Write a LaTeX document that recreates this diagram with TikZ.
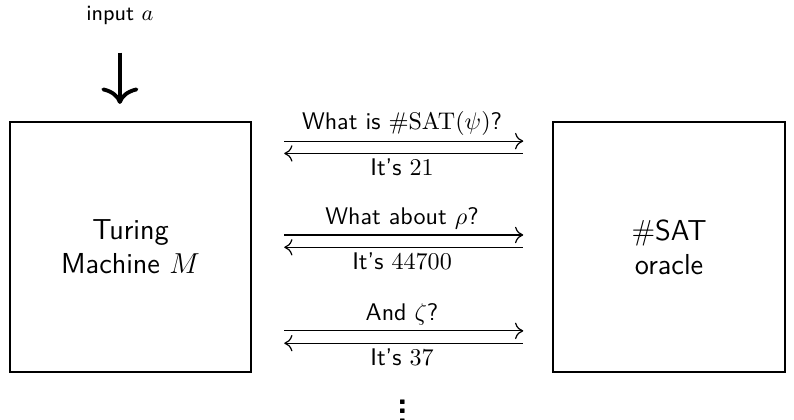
\documentclass[tikz,border=0pt]{standalone}
\usepackage{tikz}
\usetikzlibrary{positioning, arrows.meta, calc}
\usepackage{amsmath,amssymb}

\begin{document}
\begin{tikzpicture}[
  every node/.style={font=\sffamily},
  machine/.style={
    rectangle, draw=black, line width=0.8pt,
    minimum width=3.52cm, minimum height=3.65cm,
    font=\sffamily\large, align=center
  },
  query/.style={line width=0.5pt, -{To[length=1.2mm, width=2.4mm]}},
  answer/.style={line width=0.5pt, {To[length=1.2mm, width=2.4mm]}-},
  feed/.style={line width=1.6pt, -{To[length=2.4mm, width=5.4mm]}},
]
\useasboundingbox (0,0) rectangle (11.59,-6.13);

% Machine and oracle
\node[machine] (tm) at (1.905,-3.606) {Turing\\Machine $M$};
\node[machine, minimum width=3.39cm] (or) at (9.767,-3.606) {$\#$SAT\\oracle};

% Input
\node[font=\sffamily\small] (in) at (1.75,-0.23) {input $a$};
\draw[feed, shorten <=0.28cm, shorten >=0.25cm] (in.south) -- (in.south |- tm.north);

% Queries and answers
\coordinate (q1) at (0,-2.06);
\coordinate (q2) at (0,-3.43);
\coordinate (q3) at (0,-4.83);
\foreach \i/\ask/\reply in {
  1/{What is $\#\mathrm{SAT}(\psi)$?}/{It's $21$},
  2/{What about $\rho$?}/{It's $44700$},
  3/{And $\zeta$?}/{It's $37$}} {
  \draw[query, shorten <=0.47cm, shorten >=0.42cm]
    (tm.east |- q\i) -- node[above, inner sep=2pt] {\ask} (or.west |- q\i);
  \draw[answer, shorten <=0.47cm, shorten >=0.42cm]
    ($(tm.east |- q\i)+(0,-0.18)$) -- node[below, inner sep=2pt] {\reply} ($(or.west |- q\i)+(0,-0.18)$);
}

% More to come
\node[font=\sffamily\Large\bfseries, anchor=base, inner sep=0pt] (more) at (5.88,-6.18) {$\vdots$};

\end{tikzpicture}
\end{document}
